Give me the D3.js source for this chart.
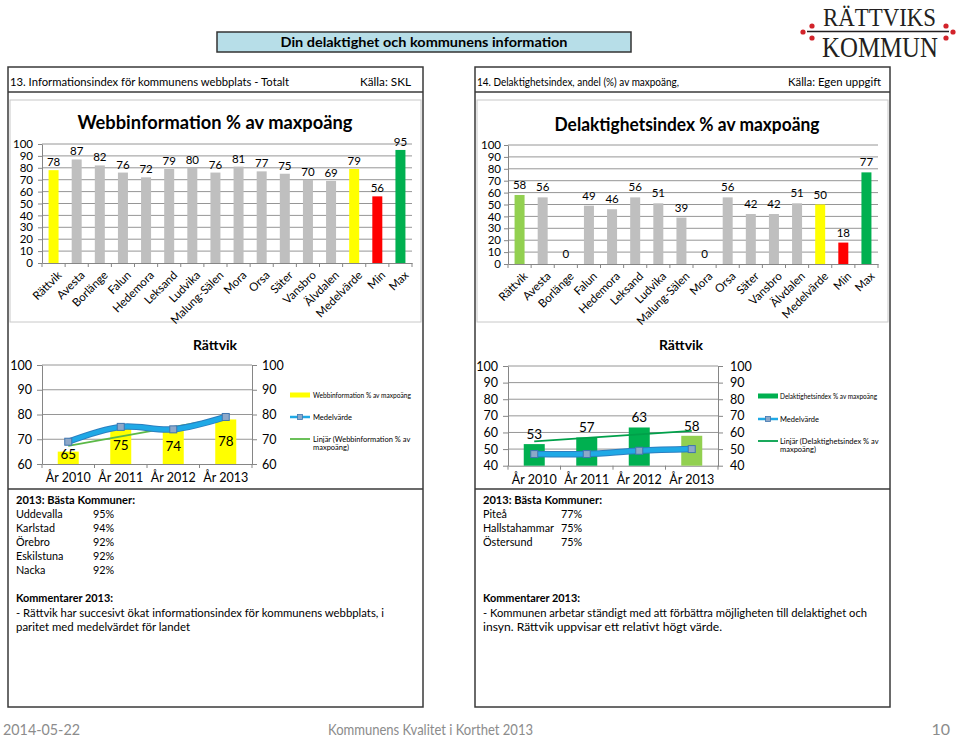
<!DOCTYPE html>
<html><head><meta charset="utf-8">
<script src="https://cdn.jsdelivr.net/npm/d3@7"></script>
<style>
body{margin:0;background:#fff}
svg{display:block}
text{font-family:Lato,"Open Sans",sans-serif}
</style>
</head><body>
<script>
// ---------- DATA ----------
const municipalities = ["Rättvik","Avesta","Borlänge","Falun","Hedemora","Leksand","Ludvika","Malung-Sälen","Mora","Orsa","Säter","Vansbro","Älvdalen","Medelvärde","Min","Max"];
const webbValues  = [78,87,82,76,72,79,80,76,81,77,75,70,69,79,56,95];
const delakValues = [58,56,0,49,46,56,51,39,0,56,42,42,51,50,18,77];
const bigTicks = [0,10,20,30,40,50,60,70,80,90,100];

const years = ["År 2010","År 2011","År 2012","År 2013"];
const webbRattvik  = [65,75,74,78];
const webbMedel    = [69,75,74,79];
const delakRattvik = [53,57,63,58];
const delakMedel   = [47,47,49,50];
const webbSmallTicks  = [60,70,80,90,100];
const delakSmallTicks = [40,50,60,70,80,90,100];

const bestWebbNames = ["Uddevalla","Karlstad","Örebro","Eskilstuna","Nacka"];
const bestWebbPct   = ["95%","94%","92%","92%","92%"];
const bestDelakNames = ["Piteå","Hallstahammar","Östersund"];
const bestDelakPct   = ["77%","75%","75%"];

// ---------- HELPERS ----------
const svg = d3.select("body").append("svg").attr("width",960).attr("height",737);

function T(g,x,y,s,o={}){
  const t=g.append("text").attr("x",x).attr("y",y).text(s)
    .attr("font-size",o.size||11).attr("fill",o.fill||"#000");
  if(o.bold) t.attr("font-weight","bold");
  if(o.anchor) t.attr("text-anchor",o.anchor);
  if(o.family) t.style("font-family",o.family);
  if(o.w) t.attr("textLength",o.w).attr("lengthAdjust","spacingAndGlyphs");
  else if(o.cond){ const L=t.node().getComputedTextLength(); t.attr("textLength",L*o.cond).attr("lengthAdjust","spacingAndGlyphs"); }
  return t;
}
const AX="#868686", GRID="#969696";

// ---------- LOGO ----------
const logo=svg.append("g");
T(logo,823,26,"RÄTTVIKS",{size:26,fill:"#231f20",w:113,family:"'Liberation Serif',serif"});
T(logo,822,57,"KOMMUN",{size:29,fill:"#231f20",w:116,family:"'Liberation Serif',serif"});
logo.append("line").attr("x1",807).attr("x2",949).attr("y1",31.5).attr("y2",31.5).attr("stroke","#231f20").attr("stroke-width",1.4);
[[812,26],[803,32],[812,38],[946,26],[953,32],[946,38]].forEach(p=>{
  logo.append("circle").attr("cx",p[0]).attr("cy",p[1]).attr("r",2.6).attr("fill","#d2232a");
});

// ---------- TITLE BOX ----------
svg.append("rect").attr("x",217).attr("y",32).attr("width",414).attr("height",20)
  .attr("fill","#b7dee8").attr("stroke","#333").attr("stroke-width",1.5);
T(svg,424,47,"Din delaktighet och kommunens information",{size:13.5,bold:true,anchor:"middle",w:287});

// ---------- PANELS ----------
function panel(x,w){
  svg.append("rect").attr("x",x).attr("y",67).attr("width",w).attr("height",640)
    .attr("fill","none").attr("stroke","#3a3a3a").attr("stroke-width",1.5);
  svg.append("line").attr("x1",x).attr("x2",x+w).attr("y1",92).attr("y2",92).attr("stroke","#3a3a3a").attr("stroke-width",1.5);
  svg.append("line").attr("x1",x).attr("x2",x+w).attr("y1",489).attr("y2",489).attr("stroke","#3a3a3a").attr("stroke-width",1.5);
  svg.append("rect").attr("x",x+2).attr("y",100).attr("width",w-4).attr("height",222)
    .attr("fill","none").attr("stroke","#c8c8c8");
}
panel(8,415);
panel(475,415);
T(svg,10,86,"13.  Informationsindex för kommunens webbplats - Totalt",{size:11.5,w:279});
T(svg,360,86,"Källa: SKL",{size:11.5,w:51});
T(svg,477,86,"14.  Delaktighetsindex, andel (%) av maxpoäng,",{size:11.5,w:202});
T(svg,788,86,"Källa: Egen uppgift",{size:11.5,w:93});

// ---------- BIG BAR CHARTS ----------
function bigChart(cfg){
  const g=svg.append("g");
  const x=d3.scaleBand().domain(municipalities).range([cfg.left,cfg.right]);
  const y=d3.scaleLinear().domain([0,100]).range([cfg.y0,cfg.y100]);
  g.selectAll("line.grid").data(bigTicks.filter(t=>t>0)).join("line").attr("class","grid")
    .attr("x1",cfg.left).attr("x2",cfg.right).attr("y1",d=>y(d)).attr("y2",d=>y(d)).attr("stroke",GRID);
  const ya=g.append("g").attr("transform",`translate(${cfg.left},0)`)
    .call(d3.axisLeft(y).tickValues(bigTicks).tickSize(4).tickSizeOuter(0).tickPadding(cfg.pad));
  ya.select(".domain").attr("stroke",AX);
  ya.selectAll(".tick line").attr("stroke",AX);
  ya.selectAll("text").attr("font-size",11.5).attr("fill","#000");
  const xa=g.append("g").attr("transform",`translate(0,${cfg.y0})`)
    .call(d3.axisBottom(x).tickSize(0).tickSizeOuter(0).tickFormat(""));
  xa.select(".domain").attr("stroke",AX);
  g.selectAll("line.xt").data(municipalities.concat([null])).join("line").attr("class","xt")
    .attr("x1",d=>d===null?cfg.right:x(d)).attr("x2",d=>d===null?cfg.right:x(d))
    .attr("y1",cfg.y0).attr("y2",cfg.y0+4).attr("stroke",AX);
  const bw=10;
  g.selectAll("rect.bar").data(municipalities).join("rect").attr("class","bar")
    .attr("x",d=>x(d)+x.bandwidth()/2-bw/2).attr("width",bw)
    .attr("y",(d,i)=>y(cfg.values[i])).attr("height",(d,i)=>y(0)-y(cfg.values[i]))
    .attr("fill",d=>cfg.color(d));
  g.selectAll("text.val").data(municipalities).join("text").attr("class","val")
    .attr("x",d=>x(d)+x.bandwidth()/2).attr("y",(d,i)=>y(cfg.values[i])-cfg.lblOff)
    .attr("text-anchor","middle").attr("font-size",11.5).text((d,i)=>cfg.values[i]);
  g.selectAll("text.xl").data(municipalities).join("text").attr("class","xl")
    .attr("transform",d=>`translate(${x(d)+x.bandwidth()/2+6},${cfg.y0+10}) rotate(-45)`)
    .attr("text-anchor","end").attr("dy","0.35em").attr("font-size",11.5).text(d=>d);
  T(g,cfg.tx,cfg.ty,cfg.title,{size:18,bold:true,anchor:"middle",w:cfg.tw});
}
function webbColor(d){return d==="Rättvik"||d==="Medelvärde"?"#ffff00":d==="Min"?"#ff0000":d==="Max"?"#00b050":"#bfbfbf";}
function delakColor(d){return d==="Rättvik"?"#92d050":d==="Medelvärde"?"#ffff00":d==="Min"?"#ff0000":d==="Max"?"#00b050":"#bfbfbf";}

bigChart({left:42,right:412,y0:263,y100:144,pad:5,values:webbValues,color:webbColor,lblOff:4,
  title:"Webbinformation % av maxpoäng",tx:215,ty:129,tw:275});
bigChart({left:508,right:878,y0:264,y100:145,pad:3,values:delakValues,color:delakColor,lblOff:6,
  title:"Delaktighetsindex % av maxpoäng",tx:687,ty:131,tw:265});

// ---------- SMALL CHARTS ----------
function smallChart(cfg){
  const g=svg.append("g");
  const x=d3.scaleBand().domain(years).range([cfg.left,cfg.right]);
  const y=d3.scaleLinear().domain([cfg.min,100]).range([cfg.yMin,cfg.y100]);
  g.selectAll("line.grid").data(cfg.ticks.filter(t=>t>cfg.min)).join("line").attr("class","grid")
    .attr("x1",cfg.left).attr("x2",cfg.right).attr("y1",d=>y(d)).attr("y2",d=>y(d)).attr("stroke",GRID);
  const yl=g.append("g").attr("transform",`translate(${cfg.left},0)`)
    .call(d3.axisLeft(y).tickValues(cfg.ticks).tickSize(5).tickSizeOuter(0).tickPadding(5));
  const yr=g.append("g").attr("transform",`translate(${cfg.right},0)`)
    .call(d3.axisRight(y).tickValues(cfg.ticks).tickSize(5).tickSizeOuter(0).tickPadding(cfg.rpad));
  [yl,yr].forEach(a=>{a.select(".domain").attr("stroke",AX);a.selectAll(".tick line").attr("stroke",AX);
    a.selectAll("text").attr("font-size",12.5).attr("fill","#000");});
  const xa=g.append("g").attr("transform",`translate(0,${cfg.yMin})`)
    .call(d3.axisBottom(x).tickSize(0).tickSizeOuter(0).tickPadding(9));
  xa.select(".domain").attr("stroke",AX);
  xa.selectAll("text").attr("font-size",12.5).attr("fill","#000");
  g.selectAll("line.xt").data(years.concat([null])).join("line").attr("class","xt")
    .attr("x1",d=>d===null?cfg.right:x(d)).attr("x2",d=>d===null?cfg.right:x(d))
    .attr("y1",cfg.yMin).attr("y2",cfg.yMin+4).attr("stroke",AX);
  const bw=21;
  g.selectAll("rect.bar").data(years).join("rect").attr("class","bar")
    .attr("x",d=>x(d)+x.bandwidth()/2-bw/2).attr("width",bw)
    .attr("y",(d,i)=>y(cfg.bars[i])).attr("height",(d,i)=>y(cfg.min)-y(cfg.bars[i]))
    .attr("fill",(d,i)=>cfg.barColor(i));
  g.selectAll("text.val").data(years).join("text").attr("class","val")
    .attr("x",d=>x(d)+x.bandwidth()/2)
    .attr("y",(d,i)=>cfg.inside? Math.min((y(cfg.bars[i])+y(cfg.min))/2, y(cfg.min)-10) : y(cfg.bars[i])-10)
    .attr("dy","0.35em").attr("text-anchor","middle").attr("font-size",13.5).text((d,i)=>cfg.bars[i]);
  // linear trendline of the bar series
  const n=cfg.bars.length, xs=d3.range(1,n+1), mx=d3.mean(xs), my=d3.mean(cfg.bars);
  const slope=d3.sum(xs,(v,i)=>(v-mx)*(cfg.bars[i]-my))/d3.sum(xs,v=>(v-mx)*(v-mx));
  const icp=my-slope*mx;
  const cx=d=>x(d)+x.bandwidth()/2;
  g.append("line").attr("x1",cx(years[0])).attr("x2",cx(years[n-1]))
    .attr("y1",y(icp+slope*1)).attr("y2",y(icp+slope*n)).attr("stroke",cfg.trendColor).attr("stroke-width",1.8);
  // medelvärde smoothed line
  const line=d3.line().x((d,i)=>cx(years[i])).y(d=>y(d)).curve(d3.curveCatmullRom.alpha(0));
  g.append("path").attr("d",line(cfg.medel)).attr("fill","none").attr("stroke","#2b7fc0").attr("stroke-width",6.5).attr("stroke-linecap","round");
  g.append("path").attr("d",line(cfg.medel)).attr("fill","none").attr("stroke","#1fa9e6").attr("stroke-width",4.5).attr("stroke-linecap","round");
  g.selectAll("rect.mk").data(cfg.medel).join("rect").attr("class","mk")
    .attr("x",(d,i)=>cx(years[i])-3.5).attr("y",d=>y(d)-3.5).attr("width",7).attr("height",7)
    .attr("fill","#8ea8c8").attr("stroke","#3f75b0").attr("stroke-width",1);
  // title
  T(g,cfg.tx,350,"Rättvik",{size:14,bold:true,anchor:"middle"});
  // legend
  const lx=cfg.lx, tx=cfg.ltx;
  g.append("rect").attr("x",lx).attr("y",cfg.ly[0]-2.5).attr("width",20).attr("height",5).attr("fill",cfg.legendColor);
  T(g,tx,cfg.ly[0]+2.5,cfg.legendName,{size:7.5,w:cfg.lw});
  g.append("line").attr("x1",lx).attr("x2",lx+20).attr("y1",cfg.ly[1]).attr("y2",cfg.ly[1]).attr("stroke","#1fa9e6").attr("stroke-width",2.5);
  g.append("rect").attr("x",lx+7.5).attr("y",cfg.ly[1]-2.5).attr("width",5).attr("height",5).attr("fill","#8ea8c8").attr("stroke","#3f75b0").attr("stroke-width",0.8);
  T(g,tx,cfg.ly[1]+2.5,"Medelvärde",{size:7.5});
  g.append("line").attr("x1",lx).attr("x2",lx+20).attr("y1",cfg.ly[2]).attr("y2",cfg.ly[2]).attr("stroke",cfg.trendColor).attr("stroke-width",1.8);
  T(g,tx,cfg.ly[2]+2.5,cfg.trendName1,{size:7.5});
  T(g,tx,cfg.ly[2]+11,"maxpoäng)",{size:7.5});
}
smallChart({left:42,right:252,min:60,yMin:464,y100:365,ticks:webbSmallTicks,rpad:5,
  bars:webbRattvik,medel:webbMedel,barColor:()=>"#ffff00",inside:true,trendColor:"#5bb947",
  tx:215,lx:290,ltx:313,ly:[395,417,439],legendColor:"#ffff00",
  legendName:"Webbinformation % av maxpoäng",lw:98,trendName1:"Linjär (Webbinformation % av"});
smallChart({left:508,right:718,min:40,yMin:465.7,y100:366,ticks:delakSmallTicks,rpad:7,
  bars:delakRattvik,medel:delakMedel,barColor:i=>i===3?"#92d050":"#00b050",inside:false,trendColor:"#00a04a",
  tx:681,lx:758,ltx:780,ly:[396,419,441],legendColor:"#00b050",
  legendName:"Delaktighetsindex % av maxpoäng",lw:97,trendName1:"Linjär (Delaktighetsindex % av"});

// ---------- TEXT BLOCKS ----------
function bestBlock(x,pctX,names,pcts){
  T(svg,x,504,"2013:  Bästa Kommuner:",{size:12,bold:true,w:119});
  names.forEach((n,i)=>{T(svg,x,518+14*i,n,{size:12,cond:0.9});T(svg,pctX,518+14*i,pcts[i],{size:12,cond:0.9});});
  T(svg,x,602,"Kommentarer 2013:",{size:12,bold:true,w:97});
}
bestBlock(16,93,bestWebbNames,bestWebbPct);
T(svg,16,617,"- Rättvik har succesivt ökat informationsindex för kommunens  webbplats, i",{size:12,w:368});
T(svg,16,631,"paritet med medelvärdet för landet",{size:12,w:174});
bestBlock(483,561,bestDelakNames,bestDelakPct);
T(svg,483,617,"- Kommunen arbetar ständigt med att förbättra möjligheten till delaktighet och",{size:12,w:384});
T(svg,483,631,"insyn. Rättvik uppvisar ett relativt högt värde.",{size:12,w:239});

// ---------- FOOTER ----------
T(svg,3,735,"2014-05-22",{size:16,fill:"#8c8c8c",w:77});
T(svg,328,735,"Kommunens Kvalitet i Korthet 2013",{size:16,fill:"#8c8c8c",w:205});
T(svg,950,735,"10",{size:16,fill:"#8c8c8c",anchor:"end"});
</script>
</body></html>
